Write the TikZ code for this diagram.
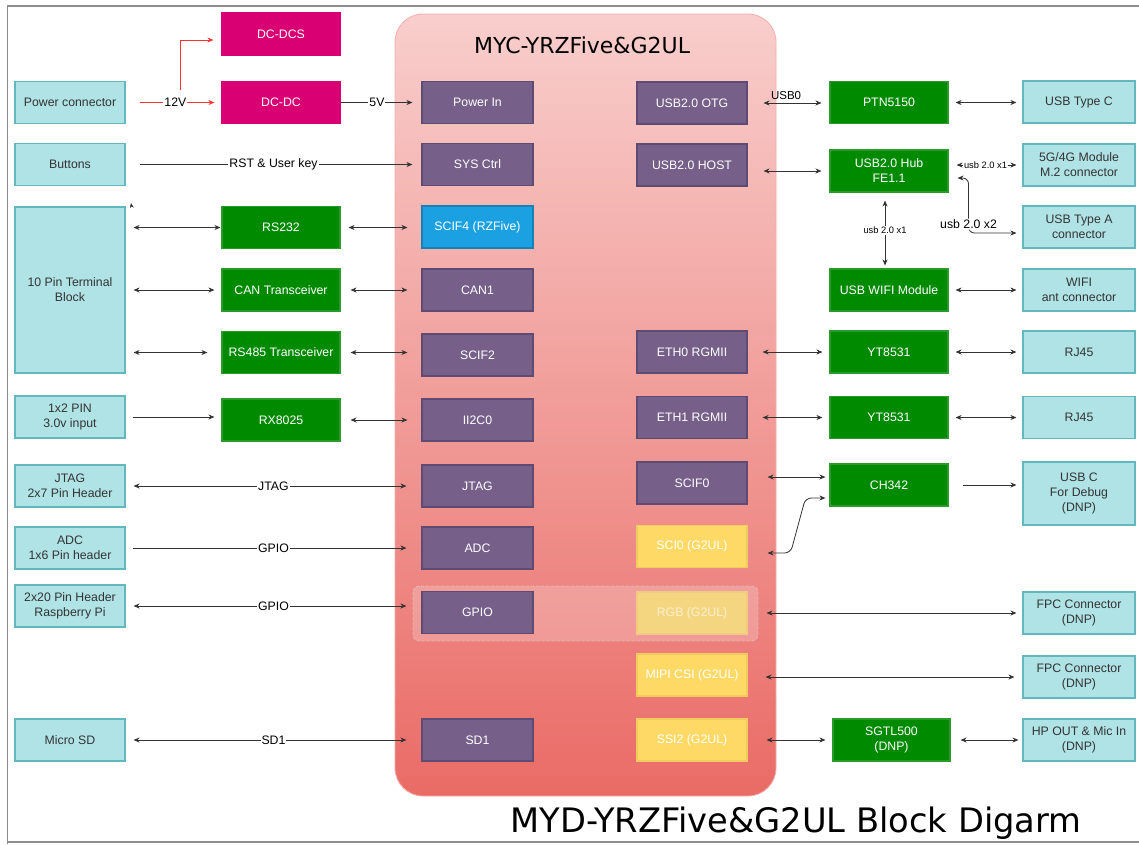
\documentclass[tikz,border=0pt]{standalone}
\usepackage{fontspec}
\setmainfont{Liberation Sans}
\newfontfamily\titlefont{DejaVu Sans}
\usetikzlibrary{arrows.meta}
\definecolor{cyanF}{HTML}{B0E3E6}
\definecolor{cyanD}{HTML}{62B8BE}
\definecolor{textC}{HTML}{333333}
\definecolor{magF}{HTML}{D80073}
\definecolor{grnF}{HTML}{008A00}
\definecolor{grnD}{HTML}{2A9A2A}
\definecolor{purF}{HTML}{76608A}
\definecolor{purD}{HTML}{5E4A72}
\definecolor{bluF}{HTML}{1BA1E2}
\definecolor{yelF}{HTML}{FFD966}
\definecolor{yelD}{HTML}{F2CB5E}
\definecolor{rgbF}{HTML}{F5D680}
\definecolor{rgbD}{HTML}{EFCB83}
\definecolor{rgbT}{HTML}{FBEFD0}
\definecolor{chipT}{HTML}{F8CECC}
\definecolor{chipB}{HTML}{EA6B66}
\definecolor{lineC}{HTML}{333333}
\definecolor{redL}{HTML}{FF3333}
\definecolor{frameC}{HTML}{8C8C8C}
\begin{document}
\begin{tikzpicture}[x=1pt,y=-1pt,
  every node/.style={inner sep=0pt, align=center},
  txt/.style={font=\fontsize{12.3}{15}\selectfont},
  bx/.style={txt, minimum height=42pt, line width=1.1pt},
  cy/.style={bx, fill=cyanF, draw=cyanD, text=textC, minimum width=110pt},
  cyr/.style={cy, minimum width=112pt},
  mg/.style={bx, fill=magF, draw=magF, text=white, minimum width=118pt},
  gr/.style={bx, fill=grnF, draw=grnD, text=white, minimum width=118pt},
  pl/.style={bx, fill=purF, draw=purD, text=white, minimum width=111pt},
  pr/.style={pl, minimum width=110pt},
  yl/.style={bx, fill=yelF, draw=yelD, text=white, minimum width=110pt},
  ln/.style={draw=lineC, line width=0.8pt},
  one/.style={ln, -{Stealth[length=6pt,width=5pt]}},
  two/.style={ln, {Stealth[length=6pt,width=5pt]}-{Stealth[length=6pt,width=5pt]}},
  lab/.style={txt, fill=white, inner sep=1pt, text=black},
  small/.style={font=\fontsize{9.3}{11}\selectfont, fill=white, inner sep=1pt, text=black}
]
\useasboundingbox (0,0) rectangle (1139,844);
\fill[white] (0,0) rectangle (1139,844);
% frame
\draw[frameC, line width=1.4pt] (7.5,844) -- (7.5,6) -- (1139,6);
\draw[frameC, line width=1.2pt] (7.5,842) -- (1139,842);

% chip background
\shadedraw[top color=chipT, bottom color=chipB, draw=chipB!55!white, line width=0.8pt, rounded corners=28pt] (395,14) rectangle (776,796);
\node[font=\titlefont\fontsize{22}{26}\selectfont, text=black] (chipt) at (582,45) {MYC-YRZFive\&G2UL};

% overlay group
\draw[fill=white, fill opacity=0.22, draw=white!70!gray, draw opacity=0.5, dash pattern=on 3pt off 2pt, rounded corners=6pt, line width=0.8pt] (413,586) rectangle (758,641);

% left cyan column
\node[cy] (pwr) at (70,102.5) {Power connector};
\node[cy] (btn) at (70,164.5) {Buttons};
\node[cy, minimum height=166pt] (term) at (70,290) {10 Pin Terminal\\Block};
\node[cy] (pin12) at (70,417) {1x2 PIN\\3.0v input};
\node[cy] (jtagh) at (70,486) {JTAG\\2x7 Pin Header};
\node[cy] (adch) at (70,548) {ADC\\1x6 Pin header};
\node[cy] (rpi) at (70,606) {2x20 Pin Header\\Raspberry Pi};
\node[cy] (msd) at (70,740) {Micro SD};

% second column
\node[mg] (dcdcs) at (281,34) {DC-DCS};
\node[mg] (dcdc) at (281,102.5) {DC-DC};
\node[gr] (rs232) at (281,227.5) {RS232};
\node[gr] (can) at (281,290) {CAN Transceiver};
\node[gr] (rs485) at (281,352.5) {RS485 Transceiver};
\node[gr] (rx) at (281,420) {RX8025};

% chip left column
\node[pl] (pin) at (477.5,102.5) {Power In};
\node[pl] (sys) at (477.5,164.5) {SYS Ctrl};
\node[pl, fill=bluF, draw=bluF!80!black] (scif4) at (477.5,227) {SCIF4 (RZFive)};
\node[pl] (can1) at (477.5,290) {CAN1};
\node[pl] (scif2) at (477.5,355) {SCIF2};
\node[pl] (i2c) at (477.5,420) {II2C0};
\node[pl] (jtag) at (477.5,486) {JTAG};
\node[pl] (adc) at (477.5,548) {ADC};
\node[pl] (gpio) at (477.5,612.5) {GPIO};
\node[pl] (sd1) at (477.5,740) {SD1};

% chip right column
\node[pr] (otg) at (692,103) {USB2.0 OTG};
\node[pr] (host) at (692,165) {USB2.0 HOST};
\node[pr] (eth0) at (692,352) {ETH0 RGMII};
\node[pr] (eth1) at (692,417.5) {ETH1 RGMII};
\node[pr] (scif0) at (692,483) {SCIF0};
\node[yl] (sci0) at (692,546.5) {SCI0 (G2UL)};
\node[yl, fill=rgbF, draw=rgbD, text=rgbT] (rgb) at (692,613) {RGB (G2UL)};
\node[yl] (mipi) at (692,675) {MIPI CSI (G2UL)};
\node[yl] (ssi2) at (692,740) {SSI2 (G2UL)};

% right green column
\node[gr] (ptn) at (889,102.5) {PTN5150};
\node[gr] (hub) at (889,171) {USB2.0 Hub\\FE1.1};
\node[gr] (wifi) at (889,290) {USB WIFI Module};
\node[gr] (yt0) at (889,352) {YT8531};
\node[gr] (yt1) at (889,417.5) {YT8531};
\node[gr] (ch) at (889,485) {CH342};
\node[gr, minimum width=117pt] (sgtl) at (891.5,740) {SGTL500\\(DNP)};

% far right cyan column
\node[cyr] (typec) at (1079,102) {USB Type C};
\node[cyr] (g5) at (1079,165) {5G/4G Module\\M.2 connector};
\node[cyr] (usba) at (1079,227) {USB Type A\\connector};
\node[cyr] (ant) at (1079,290) {WIFI\\ant connector};
\node[cyr] (rj0) at (1079,352) {RJ45};
\node[cyr] (rj1) at (1079,417.5) {RJ45};
\node[cyr, minimum height=63pt] (dbg) at (1079,493.5) {USB C\\For Debug\\(DNP)};
\node[cyr] (fpc1) at (1079,613) {FPC Connector\\(DNP)};
\node[cyr] (fpc2) at (1079,677) {FPC Connector\\(DNP)};
\node[cyr] (hp) at (1079,740) {HP OUT \& Mic In\\(DNP)};

% bottom title
\node[font=\titlefont\fontsize{33.7}{38}\selectfont, text=black, anchor=base] (title) at (796,832) {MYD-YRZFive\&G2UL Block Digarm};

% ---------- connectors, left side ----------
\draw[one, draw=redL, shorten <=14pt, shorten >=7pt] (pwr.east) -- node[lab, pos=0.52] (l12) {12V} (dcdc.west);
\coordinate (br) at (180,90);
\draw[one, draw=redL, shorten >=8pt] (br) |- (dcdcs.west |- 0,40);
\draw[one, shorten >=9pt] (dcdc.east) -- node[lab, pos=0.45] {5V} (pin.west);
\draw[one, shorten <=14pt, shorten >=9pt] (btn.east) -- node[lab, pos=0.5] {RST \& User key} (sys.west);
\coordinate (stray) at (131,203);
\draw[ln, -{Stealth[length=5pt,width=4pt]}] ([xshift=6pt]term.north east) -- (stray);
\draw[two, shorten <=8pt, shorten >=1pt] (term.east |- rs232.west) -- (rs232.west);
\draw[two, shorten <=8pt, shorten >=7pt] (term.east |- can.west) -- (can.west);
\draw[two, shorten <=8pt, shorten >=14pt] (term.east |- rs485.west) -- (rs485.west);
\draw[one, shorten <=7pt, shorten >=7pt] (pin12.east) -- (pin12.east -| rx.west);
\draw[two, shorten <=8pt, shorten >=14pt] (rs232.east) -- (rs232.east -| scif4.west);
\draw[two, shorten <=10pt, shorten >=14pt] (can.east) -- (can1.west);
\draw[two, shorten <=10pt, shorten >=14pt] (rs485.east) -- (rs485.east -| scif2.west);
\draw[two, shorten <=10pt, shorten >=14pt] (rx.east) -- (i2c.west);
\draw[two, shorten <=8pt, shorten >=15pt] (jtagh.east) -- node[lab, pos=0.5] {JTAG} (jtag.west);
\draw[one, shorten <=7pt, shorten >=15pt] (adch.east) -- node[lab, pos=0.5] {GPIO} (adc.west);
\draw[two, shorten <=8pt, shorten >=15pt] (rpi.east) -- node[lab, pos=0.5] {GPIO} (rpi.east -| gpio.west);
\draw[two, shorten <=8pt, shorten >=15pt] (msd.east) -- node[lab, pos=0.5] {SD1} (sd1.west);

% ---------- connectors, right side ----------
\draw[two, shorten <=16pt, shorten >=8pt] (otg.east) -- node[above=3pt, font=\fontsize{11.5}{13}\selectfont, pos=0.47] {USB0} (otg.east -| ptn.west);
\draw[two, shorten <=16pt, shorten >=8pt] (host.east |- hub.west) -- (hub.west);
\draw[two, shorten <=7pt, shorten >=6pt] (ptn.east) -- (ptn.east -| typec.west);
\draw[two, shorten <=8pt, shorten >=6pt] (hub.east |- g5.west) -- node[small, pos=0.5] {usb 2.0 x1} (g5.west);
\draw[two, rounded corners=6pt] ([xshift=9pt,yshift=-7pt]hub.east) -- ++(11,0) |- node[lab, pos=0.42, fill=white] {usb 2.0 x2} ([xshift=-6pt,yshift=-6pt]usba.west);
\draw[two, shorten <=8pt, shorten >=3pt] ([xshift=-4pt]hub.south) -- node[small, pos=0.5] {usb 2.0 x1} ([xshift=-4pt]wifi.north);
\draw[two, shorten <=7pt, shorten >=6pt] (wifi.east) -- (ant.west);
\draw[two, shorten <=15pt, shorten >=7pt] (eth0.east) -- (yt0.west);
\draw[two, shorten <=7pt, shorten >=6pt] (yt0.east) -- (rj0.west);
\draw[two, shorten <=15pt, shorten >=7pt] (eth1.east) -- (yt1.west);
\draw[two, shorten <=7pt, shorten >=6pt] (yt1.east) -- (rj1.west);
\coordinate (s0) at ([yshift=6pt]scif0.east);
\draw[two, shorten <=20pt, shorten >=4pt] (s0) -- (s0 -| ch.west);
\draw[two, rounded corners=6pt] ([xshift=20pt,yshift=-6.5pt]sci0.east) -- ++(23,0) -- ([xshift=-24pt,yshift=-13pt]ch.west) -- ([xshift=-4pt,yshift=-13pt]ch.west);
\draw[one, shorten <=14pt, shorten >=6pt] (ch.east) -- (ch.east -| dbg.west);
\draw[two, shorten <=19pt, shorten >=6pt] (rgb.east) -- (fpc1.west);
\draw[two, shorten <=18pt, shorten >=8pt] ([yshift=-2pt]mipi.east) -- (fpc2.west);
\draw[two, shorten <=19pt, shorten >=7pt] (ssi2.east) -- (sgtl.west);
\draw[two, shorten <=10pt, shorten >=4pt] (sgtl.east) -- (hp.west);
\end{tikzpicture}
\end{document}
